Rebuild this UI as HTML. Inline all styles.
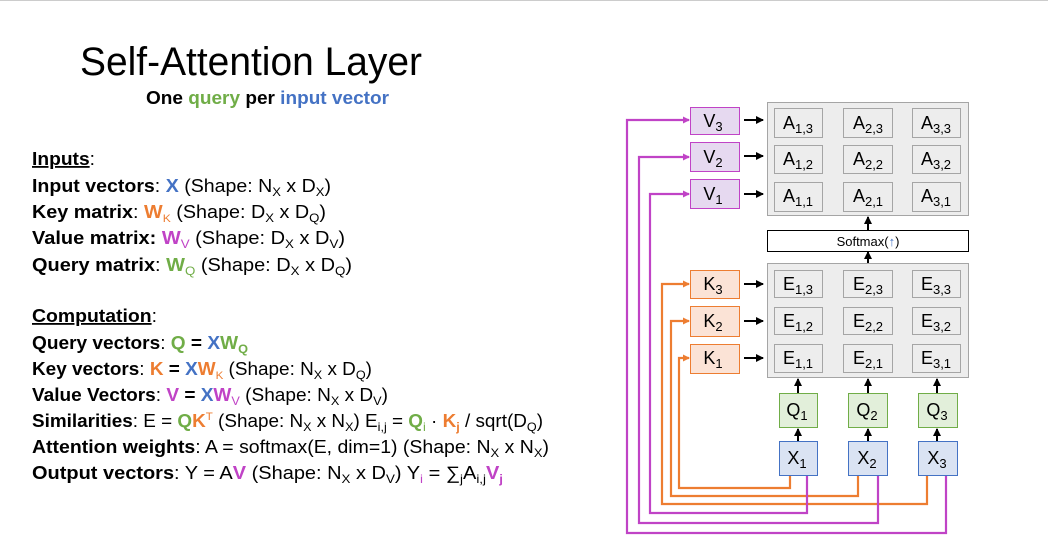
<!DOCTYPE html>
<html><head><meta charset="utf-8"><style>
html,body{margin:0;padding:0;background:#fff;width:1048px;height:553px;overflow:hidden}
svg{display:block;font-family:"Liberation Sans",sans-serif}
.b{font-weight:bold}
.t{font-size:18px;fill:#000}
</style></head><body>
<svg width="1048" height="553" viewBox="0 0 1048 553" xmlns="http://www.w3.org/2000/svg">
<defs>
<marker id="ak" markerWidth="8" markerHeight="8" refX="7" refY="4" orient="auto" markerUnits="userSpaceOnUse"><path d="M0,0 L8,4 L0,8 z" fill="#000"/></marker>
<marker id="ao" markerWidth="7" markerHeight="7" refX="6" refY="3.5" orient="auto" markerUnits="userSpaceOnUse"><path d="M0,0 L7,3.5 L0,7 z" fill="#ED7D31"/></marker>
<marker id="ap" markerWidth="7" markerHeight="7" refX="6" refY="3.5" orient="auto" markerUnits="userSpaceOnUse"><path d="M0,0 L7,3.5 L0,7 z" fill="#C043C6"/></marker>
</defs>
<line x1="0" y1="0.5" x2="1048" y2="0.5" stroke="#ccc"/>
<text x="80" y="75" font-size="40" textLength="342" lengthAdjust="spacingAndGlyphs">Self-Attention Layer</text>
<text x="146" y="104" font-size="18" class="b" textLength="243" lengthAdjust="spacingAndGlyphs">One <tspan fill="#70AD47">query</tspan> per <tspan fill="#4472C4">input vector</tspan></text>

<g class="t">
<text x="32" y="165" class="b" textLength="63" lengthAdjust="spacingAndGlyphs"><tspan text-decoration="underline">Inputs</tspan><tspan font-weight="normal">:</tspan></text>
<text x="32" y="192" textLength="299" lengthAdjust="spacingAndGlyphs"><tspan class="b">Input vectors</tspan>: <tspan class="b" fill="#4472C4">X</tspan> (Shape: N<tspan font-size="12" dy="4">X</tspan><tspan dy="-4"> x D</tspan><tspan font-size="12" dy="4">X</tspan><tspan dy="-4">)</tspan></text>
<text x="32" y="218" textLength="294" lengthAdjust="spacingAndGlyphs"><tspan class="b">Key matrix</tspan>: <tspan class="b" fill="#ED7D31">W</tspan><tspan font-size="11" dy="4" fill="#ED7D31">K</tspan><tspan dy="-4"> (Shape: D</tspan><tspan font-size="12" dy="4">X</tspan><tspan dy="-4"> x D</tspan><tspan font-size="12" dy="4">Q</tspan><tspan dy="-4">)</tspan></text>
<text x="32" y="244" textLength="313" lengthAdjust="spacingAndGlyphs"><tspan class="b">Value matrix: </tspan><tspan class="b" fill="#C043C6">W</tspan><tspan font-size="12" dy="4" fill="#C043C6">V</tspan><tspan dy="-4"> (Shape: D</tspan><tspan font-size="12" dy="4">X</tspan><tspan dy="-4"> x D</tspan><tspan font-size="12" dy="4">V</tspan><tspan dy="-4">)</tspan></text>
<text x="32" y="271" textLength="320" lengthAdjust="spacingAndGlyphs"><tspan class="b">Query matrix</tspan>: <tspan class="b" fill="#70AD47">W</tspan><tspan font-size="12" dy="4" fill="#70AD47">Q</tspan><tspan dy="-4"> (Shape: D</tspan><tspan font-size="12" dy="4">X</tspan><tspan dy="-4"> x D</tspan><tspan font-size="12" dy="4">Q</tspan><tspan dy="-4">)</tspan></text>

<text x="32" y="322" class="b" textLength="125" lengthAdjust="spacingAndGlyphs"><tspan text-decoration="underline">Computation</tspan><tspan font-weight="normal">:</tspan></text>
<text x="32" y="349" class="b" textLength="216" lengthAdjust="spacingAndGlyphs">Query vectors<tspan font-weight="normal">: </tspan><tspan fill="#70AD47">Q</tspan> = <tspan fill="#4472C4">X</tspan><tspan fill="#70AD47">W</tspan><tspan font-size="12" dy="4" fill="#70AD47">Q</tspan></text>
<text x="32" y="375" textLength="340" lengthAdjust="spacingAndGlyphs"><tspan class="b">Key vectors</tspan>: <tspan class="b" fill="#ED7D31">K</tspan><tspan class="b"> = </tspan><tspan class="b" fill="#4472C4">X</tspan><tspan class="b" fill="#ED7D31">W</tspan><tspan font-size="11" dy="4" fill="#ED7D31">K</tspan><tspan dy="-4">  (Shape: N</tspan><tspan font-size="12" dy="4">X</tspan><tspan dy="-4"> x D</tspan><tspan font-size="12" dy="4">Q</tspan><tspan dy="-4">)</tspan></text>
<text x="32" y="401" textLength="356" lengthAdjust="spacingAndGlyphs"><tspan class="b">Value Vectors</tspan>: <tspan class="b" fill="#C043C6">V</tspan><tspan class="b"> = </tspan><tspan class="b" fill="#4472C4">X</tspan><tspan class="b" fill="#C043C6">W</tspan><tspan font-size="12" dy="4" fill="#C043C6">V</tspan><tspan dy="-4"> (Shape: N</tspan><tspan font-size="12" dy="4">X</tspan><tspan dy="-4"> x D</tspan><tspan font-size="12" dy="4">V</tspan><tspan dy="-4">)</tspan></text>
<text x="32" y="427" textLength="511" lengthAdjust="spacingAndGlyphs"><tspan class="b">Similarities</tspan>: E = <tspan class="b" fill="#70AD47">Q</tspan><tspan class="b" fill="#ED7D31">K</tspan><tspan font-size="11" dy="-7" fill="#ED7D31">T</tspan><tspan dy="7"> (Shape: N</tspan><tspan font-size="12" dy="4">X</tspan><tspan dy="-4"> x N</tspan><tspan font-size="12" dy="4">X</tspan><tspan dy="-4">) E</tspan><tspan font-size="12" dy="4">i,j</tspan><tspan dy="-4"> = </tspan><tspan class="b" fill="#70AD47">Q</tspan><tspan font-size="12" dy="4" fill="#70AD47">i</tspan><tspan dy="-4"> · </tspan><tspan class="b" fill="#ED7D31">K</tspan><tspan font-size="12" dy="4" class="b" fill="#ED7D31">j</tspan><tspan dy="-4"> / sqrt(D</tspan><tspan font-size="12" dy="4">Q</tspan><tspan dy="-4">)</tspan></text>
<text x="32" y="453" textLength="517" lengthAdjust="spacingAndGlyphs"><tspan class="b">Attention weights</tspan>: A = softmax(E, dim=1)  (Shape: N<tspan font-size="12" dy="4">X</tspan><tspan dy="-4"> x N</tspan><tspan font-size="12" dy="4">X</tspan><tspan dy="-4">)</tspan></text>
<text x="32" y="479" textLength="471" lengthAdjust="spacingAndGlyphs"><tspan class="b">Output vectors</tspan>: Y = A<tspan class="b" fill="#C043C6">V</tspan> (Shape: N<tspan font-size="12" dy="4">X</tspan><tspan dy="-4"> x D</tspan><tspan font-size="12" dy="4">V</tspan><tspan dy="-4">) Y</tspan><tspan font-size="12" dy="4" fill="#C043C6">i</tspan><tspan dy="-4"> = ∑</tspan><tspan font-size="12" dy="4">j</tspan><tspan dy="-4">A</tspan><tspan font-size="12" dy="4">i,j</tspan><tspan dy="-4" class="b" fill="#C043C6">V</tspan><tspan font-size="12" dy="4" class="b" fill="#C043C6">j</tspan></text>
</g>

<g fill="none" stroke-width="2.2">
<polyline points="790,475 790,488 679,488 679,358 689,358" stroke="#ED7D31" marker-end="url(#ao)"/>
<polyline points="858,475 858,496 671,496 671,321 689,321" stroke="#ED7D31" marker-end="url(#ao)"/>
<polyline points="927,475 927,504 662,504 662,284 689,284" stroke="#ED7D31" marker-end="url(#ao)"/>
<polyline points="807,475 807,513 650,513 650,194 689,194" stroke="#C043C6" marker-end="url(#ap)"/>
<polyline points="878,475 878,523 639,523 639,157 689,157" stroke="#C043C6" marker-end="url(#ap)"/>
<polyline points="946,475 946,533 627,533 627,120 689,120" stroke="#C043C6" marker-end="url(#ap)"/>
</g>

<rect x="767.5" y="102.5" width="201" height="113" fill="#EDEDED" stroke="#A5A5A5"/>
<rect x="767.5" y="263.5" width="201" height="114" fill="#EDEDED" stroke="#A5A5A5"/>
<rect x="767.5" y="230.5" width="201" height="21" fill="#fff" stroke="#000"/>
<text x="868" y="246" font-size="13" text-anchor="middle">Softmax(<tspan fill="#4472C4">↑</tspan>)</text>

<g stroke="#A5A5A5" fill="#EDEDED">
<rect x="774.5" y="108.5" width="48" height="29"/><rect x="843.5" y="108.5" width="49" height="29"/><rect x="912.5" y="108.5" width="48" height="29"/>
<rect x="774.5" y="145.5" width="48" height="28"/><rect x="843.5" y="145.5" width="49" height="28"/><rect x="912.5" y="145.5" width="48" height="28"/>
<rect x="774.5" y="182.5" width="48" height="29"/><rect x="843.5" y="182.5" width="49" height="29"/><rect x="912.5" y="182.5" width="48" height="29"/>
<rect x="774.5" y="270.5" width="48" height="27"/><rect x="843.5" y="270.5" width="49" height="27"/><rect x="912.5" y="270.5" width="48" height="27"/>
<rect x="774.5" y="307.5" width="48" height="27"/><rect x="843.5" y="307.5" width="49" height="27"/><rect x="912.5" y="307.5" width="48" height="27"/>
<rect x="774.5" y="344.5" width="48" height="28"/><rect x="843.5" y="344.5" width="49" height="28"/><rect x="912.5" y="344.5" width="48" height="28"/>
</g>
<g font-size="18" text-anchor="middle" fill="#000">
<text x="798" y="129">A<tspan font-size="13" dy="4">1,3</tspan></text><text x="868" y="129">A<tspan font-size="13" dy="4">2,3</tspan></text><text x="936" y="129">A<tspan font-size="13" dy="4">3,3</tspan></text>
<text x="798" y="165">A<tspan font-size="13" dy="4">1,2</tspan></text><text x="868" y="165">A<tspan font-size="13" dy="4">2,2</tspan></text><text x="936" y="165">A<tspan font-size="13" dy="4">3,2</tspan></text>
<text x="798" y="202">A<tspan font-size="13" dy="4">1,1</tspan></text><text x="868" y="202">A<tspan font-size="13" dy="4">2,1</tspan></text><text x="936" y="202">A<tspan font-size="13" dy="4">3,1</tspan></text>
<text x="798" y="290">E<tspan font-size="13" dy="4">1,3</tspan></text><text x="868" y="290">E<tspan font-size="13" dy="4">2,3</tspan></text><text x="936" y="290">E<tspan font-size="13" dy="4">3,3</tspan></text>
<text x="798" y="327">E<tspan font-size="13" dy="4">1,2</tspan></text><text x="868" y="327">E<tspan font-size="13" dy="4">2,2</tspan></text><text x="936" y="327">E<tspan font-size="13" dy="4">3,2</tspan></text>
<text x="798" y="364">E<tspan font-size="13" dy="4">1,1</tspan></text><text x="868" y="364">E<tspan font-size="13" dy="4">2,1</tspan></text><text x="936" y="364">E<tspan font-size="13" dy="4">3,1</tspan></text>
</g>

<g stroke="#C043C6" fill="#E6D9F0">
<rect x="690.5" y="107.5" width="49" height="27"/><rect x="690.5" y="142.5" width="49" height="29"/><rect x="690.5" y="179.5" width="49" height="29"/>
</g>
<g stroke="#ED7D31" fill="#FBE3D6">
<rect x="690.5" y="270.5" width="49" height="28"/><rect x="690.5" y="306.5" width="49" height="30"/><rect x="690.5" y="344.5" width="49" height="29"/>
</g>
<g stroke="#70AD47" fill="#E2EFDA">
<rect x="779.5" y="393.5" width="38" height="34"/><rect x="848.5" y="393.5" width="39" height="34"/><rect x="918.5" y="393.5" width="39" height="34"/>
</g>
<g stroke="#4472C4" fill="#DAE3F3">
<rect x="779.5" y="441.5" width="38" height="34"/><rect x="848.5" y="441.5" width="39" height="34"/><rect x="918.5" y="441.5" width="39" height="34"/>
</g>
<g font-size="18" text-anchor="middle" fill="#000">
<text x="713" y="127">V<tspan font-size="13" dy="4">3</tspan></text>
<text x="713" y="163">V<tspan font-size="13" dy="4">2</tspan></text>
<text x="713" y="200">V<tspan font-size="13" dy="4">1</tspan></text>
<text x="713" y="290">K<tspan font-size="13" dy="4">3</tspan></text>
<text x="713" y="327">K<tspan font-size="13" dy="4">2</tspan></text>
<text x="713" y="364">K<tspan font-size="13" dy="4">1</tspan></text>
<text x="797" y="416">Q<tspan font-size="13" dy="4">1</tspan></text>
<text x="867" y="416">Q<tspan font-size="13" dy="4">2</tspan></text>
<text x="937" y="416">Q<tspan font-size="13" dy="4">3</tspan></text>
<text x="797" y="464">X<tspan font-size="13" dy="4">1</tspan></text>
<text x="867" y="464">X<tspan font-size="13" dy="4">2</tspan></text>
<text x="937" y="464">X<tspan font-size="13" dy="4">3</tspan></text>
</g>

<g stroke="#000" stroke-width="2" marker-end="url(#ak)">
<line x1="744" y1="120" x2="763" y2="120"/><line x1="744" y1="156" x2="763" y2="156"/><line x1="744" y1="194" x2="763" y2="194"/>
<line x1="744" y1="284" x2="763" y2="284"/><line x1="744" y1="321" x2="763" y2="321"/><line x1="744" y1="358" x2="763" y2="358"/>
<line x1="868" y1="230" x2="868" y2="217"/><line x1="868" y1="263" x2="868" y2="252"/>
<line x1="798" y1="393" x2="798" y2="379"/><line x1="868" y1="393" x2="868" y2="379"/><line x1="937" y1="393" x2="937" y2="379"/>
<line x1="798" y1="441" x2="798" y2="429"/><line x1="868" y1="441" x2="868" y2="429"/><line x1="937" y1="441" x2="937" y2="429"/>
</g>
</svg>
</body></html>
